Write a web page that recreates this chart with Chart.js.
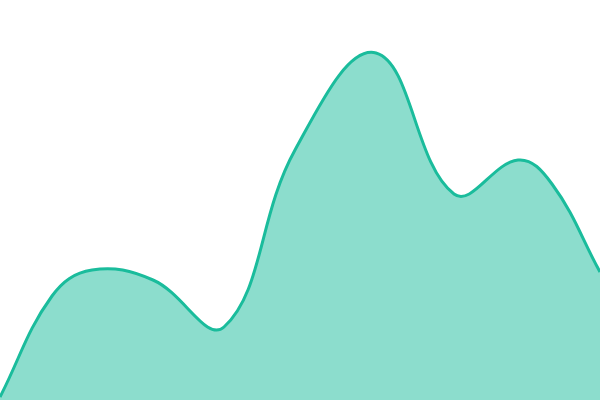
<!DOCTYPE html>
<html>
<head>
<meta charset="utf-8">
<script src="https://cdn.jsdelivr.net/npm/chart.js@4/dist/chart.umd.min.js"></script>
<style>
  html, body { margin: 0; padding: 0; background: #fff; }
  #wrap { width: 600px; height: 400px; }
</style>
</head>
<body>
<div id="wrap"><canvas id="waveChart"></canvas></div>
<script>
// ===== Data =====
const positions = [0, 52, 92, 153, 224, 295, 376, 454, 518, 552, 600];
const values = [3, 104, 130, 120, 73, 250, 347, 206, 240, 216, 128];

// ===== Chart =====
const ctx = document.getElementById('waveChart');
new Chart(ctx, {
  type: 'line',
  data: {
    datasets: [{
      data: positions.map((x, i) => ({ x, y: values[i] })),
      borderColor: '#1abc9c', backgroundColor: 'rgba(26,188,156,0.5)',
      borderWidth: 3, fill: 'origin', tension: 0.4, pointRadius: 0
    }]
  },
  options: {
    responsive: true, maintainAspectRatio: false, animation: false,
    layout: { padding: 0 },
    plugins: { legend: { display: false }, tooltip: { enabled: false } },
    scales: {
      x: { type: 'linear', min: 0, max: 600, display: false },
      y: { min: 0, max: 400, display: false }
    }
  }
});
</script>
</body>
</html>
